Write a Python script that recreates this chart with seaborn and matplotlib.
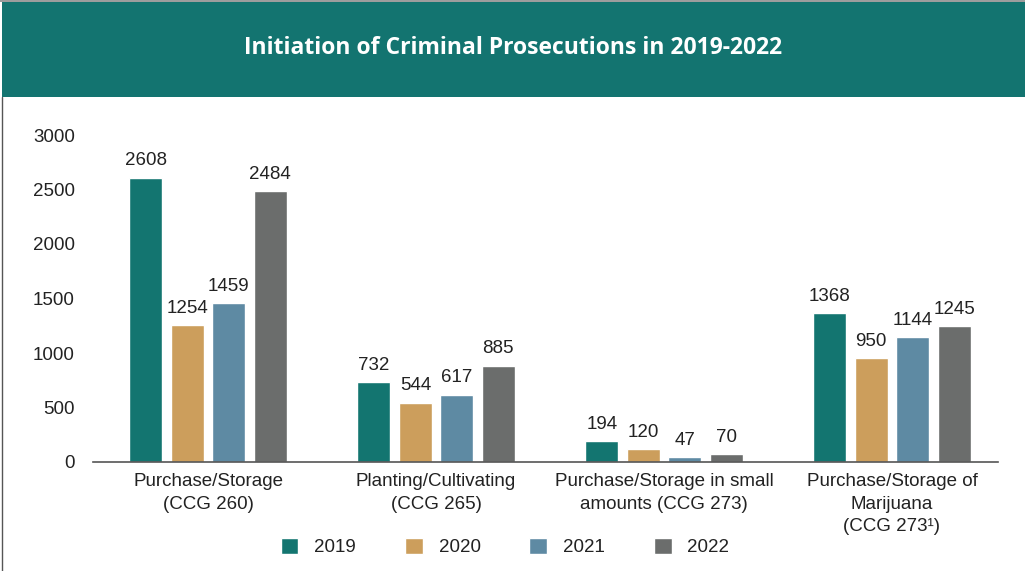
import matplotlib
matplotlib.use("Agg")
import matplotlib.pyplot as plt
from matplotlib.patches import Rectangle
from matplotlib.lines import Line2D
import seaborn as sns
import pandas as pd

categories = [
    "Purchase/Storage\n(CCG 260)",
    "Planting/Cultivating\n(CCG 265)",
    "Purchase/Storage in small\namounts (CCG 273)",
    "Purchase/Storage of\nMarijuana\n(CCG 273\u00b9)",
]
years = ["2019", "2020", "2021", "2022"]
values_2019 = [2608, 732, 194, 1368]
values_2020 = [1254, 544, 120, 950]
values_2021 = [1459, 617, 47, 1144]
values_2022 = [2484, 885, 70, 1245]
y_ticks = [0, 500, 1000, 1500, 2000, 2500, 3000]

colors = ["#137570", "#CC9E5C", "#5E8AA3", "#6B6D6C"]
header_color = "#137470"
title = "Initiation of Criminal Prosecutions in 2019-2022"

df = pd.DataFrame({
    "category": categories * 4,
    "year": [y for y in years for _ in categories],
    "value": values_2019 + values_2020 + values_2021 + values_2022,
})

sns.set_theme(style="white")
plt.rcParams["font.family"] = ["Liberation Sans", "DejaVu Sans"]

fig = plt.figure(figsize=(10.25, 5.71), dpi=100)
W, H = 1025, 571

# header band with title
fig.patches.append(Rectangle((2 / W, 1 - 97 / H), 1 - 2 / W, 95 / H,
                             transform=fig.transFigure, facecolor=header_color,
                             edgecolor="none", zorder=0))
fig.lines.append(Line2D([0, 1], [1 - 0.8 / H, 1 - 0.8 / H], transform=fig.transFigure,
                        color="#8a8a8a", lw=1.2))
fig.lines.append(Line2D([2 / W, 2 / W], [0, 1 - 97 / H], transform=fig.transFigure,
                        color="#555555", lw=1.0))
fig.text(513 / W, 1 - 48 / H, title, ha="center", va="center", color="white",
         fontsize=16.5, fontweight="bold",
         family=["Open Sans", "DejaVu Sans"])

ax = fig.add_axes([93 / W, 1 - 462 / H, (998 - 93) / W, (462 - 135) / H])
sns.barplot(data=df, x="category", y="value", hue="year", palette=colors,
            width=0.728, gap=0.2, ax=ax, saturation=1, errorbar=None,
            legend=True)

for cont in ax.containers:
    ax.bar_label(cont, fmt="%d", padding=6, fontsize=13.5, color="#222222")

ax.set_ylim(0, 3000)
ax.set_xlim(-0.505, 3.465)
ax.set_yticks(y_ticks)
ax.set_yticklabels([str(t) for t in y_ticks], fontsize=13.5, color="#222222")
ax.tick_params(axis="y", length=0, pad=13)
ax.tick_params(axis="x", length=0, pad=8, labelsize=13.5, labelcolor="#222222")
ax.set_xlabel("")
ax.set_ylabel("")
for s in ["top", "right", "left"]:
    ax.spines[s].set_visible(False)
ax.spines["bottom"].set_color("#555555")
ax.spines["bottom"].set_linewidth(1.2)
ax.grid(False)

handles, labels = ax.get_legend_handles_labels()
ax.get_legend().remove()
fig.legend(handles, labels, loc="center", bbox_to_anchor=(505 / W, 1 - 547 / H),
           ncol=4, frameon=False, fontsize=13.5, handlelength=0.95, handleheight=1.0,
           handletextpad=0.85, columnspacing=2.6, labelcolor="#222222")

fig.canvas.draw()
for lbl in ax.get_xticklabels():
    lbl.set_linespacing(1.42)

fig.savefig("out.png", dpi=100, facecolor="white")
